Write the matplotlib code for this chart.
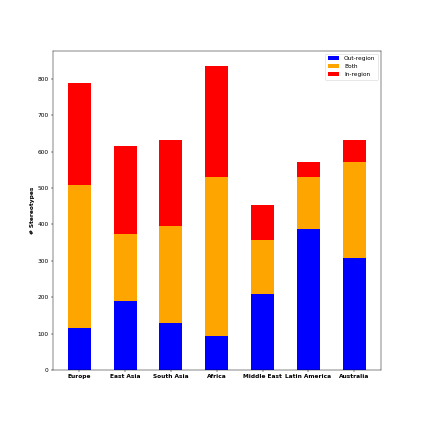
import numpy as np
import matplotlib
matplotlib.use("Agg")
import matplotlib.pyplot as plt

regions = ["Europe", "East Asia", "South Asia", "Africa", "Middle East", "Latin America", "Australia"]
out_region = [117, 190, 130, 95, 209, 388, 308]
both_top = [508, 373, 396, 531, 356, 529, 570]
total = [788, 615, 632, 835, 454, 572, 631]

both = [b - o for b, o in zip(both_top, out_region)]
in_region = [t - b for t, b in zip(total, both_top)]

fig = plt.figure(figsize=(10, 10), dpi=42.3)
ax = fig.add_subplot(111)
fig.subplots_adjust(left=0.125, right=0.9, top=0.88, bottom=0.125)

x = np.arange(len(regions))
ax.bar(x, out_region, width=0.5, color="blue", label="Out-region")
ax.bar(x, both, width=0.5, bottom=out_region, color="orange", label="Both")
ax.bar(x, in_region, width=0.5, bottom=both_top, color="red", label="In-region")

ax.set_xticks(x)
ax.set_xticklabels(regions, fontweight="bold")
ax.set_ylabel("# Stereotypes", fontweight="bold")
ax.legend(loc="upper right")

fig.savefig("out.png", dpi=42.3)
